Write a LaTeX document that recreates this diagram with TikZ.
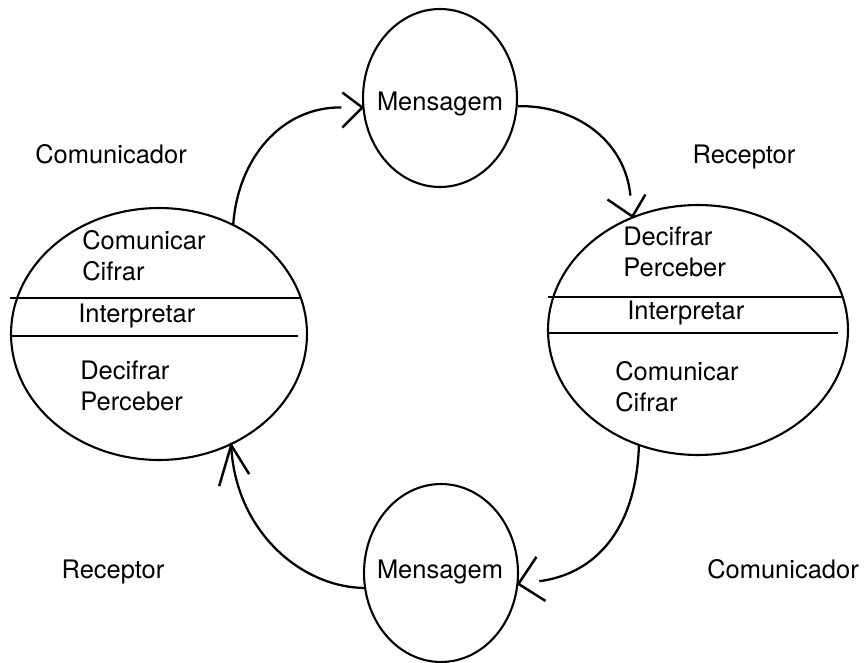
\documentclass[tikz,border=0pt]{standalone}
\usepackage{fontspec}
\setmainfont{TeX Gyre Heros}
\usetikzlibrary{shapes.geometric,calc}
\begin{document}
\begin{tikzpicture}[x=0.02cm,y=-0.02cm,
  every node/.style={font=\fontsize{14.5}{17.5}\selectfont},
  oval/.style={draw, ellipse, inner sep=0pt, line width=1.2pt},
  txt/.style={inner sep=0pt, align=left, anchor=west},
  lbl/.style={inner sep=0pt, anchor=base},
  conn/.style={line width=1.3pt},
  barb/.style={line width=1.4pt, line join=miter},
  divider/.style={line width=1.2pt}
]
\useasboundingbox (0,0) rectangle (867,663);

% ellipses
\node[oval, minimum width=5.92cm, minimum height=5.04cm] (L) at (159,334) {};
\node[oval, minimum width=6cm, minimum height=5cm] (R) at (698,330) {};
\node[oval, minimum width=3.08cm, minimum height=3.56cm] (MT) at (440,98) {};
\node[oval, minimum width=3.08cm, minimum height=3.56cm] (MB) at (441,573) {};

% message texts
\node[lbl] (MTt) at (440,110) {Mensagem};
\node[lbl] (MBt) at (440,578) {Mensagem};

% dividers
\draw[divider] (10,298) -- (302,298);
\draw[divider] (12,336) -- (298,336);
\draw[divider] (548,297) -- (843,297);
\draw[divider] (548,333) -- (838,333);

% left ellipse texts
\node[txt] (L1) at (82,256) {Comunicar\\Cifrar};
\node[txt] (L2) at (78,316) {Interpretar};
\node[txt] (L3) at (80,386) {Decifrar\\Perceber};

% right ellipse texts
\node[txt] (R1) at (623,252) {Decifrar\\Perceber};
\node[txt] (R2) at (627,313) {Interpretar};
\node[txt] (R3) at (615,387) {Comunicar\\Cifrar};

% outside labels
\node[lbl] (c1) at (111,163) {Comunicador};
\node[lbl] (r1) at (744,163) {Receptor};
\node[lbl] (r2) at (113,578) {Receptor};
\node[lbl] (c2) at (783,578) {Comunicador};

% connectors
\draw[conn, shorten >=0.42cm] (L.56) .. controls (238,160) and (280,107) .. (MT.187);
\draw[barb] ($(MT.187)+(-20,-15)$) -- (MT.187) -- ($(MT.187)+(-20,20)$);

\draw[conn, shorten >=0.42cm] (MT.-6) .. controls (575,105) and (625,140) .. (R.120);
\draw[barb] ($(R.120)+(-25,-17)$) -- (R.120) -- ($(R.120)+(13,-22)$);

\draw[conn, shorten >=0.42cm] (R.243) .. controls (636,530) and (595,574) .. (MB.-8);
\draw[barb] ($(MB.-8)+(18,-27)$) -- (MB.-8) -- ($(MB.-8)+(27,17)$);

\draw[conn] (MB.191) .. controls (300,587) and (235,530) .. (L.-57);
\draw[barb] ($(L.-57)+(-12,41)$) -- (L.-57) -- ($(L.-57)+(18,29)$);
\end{tikzpicture}
\end{document}
